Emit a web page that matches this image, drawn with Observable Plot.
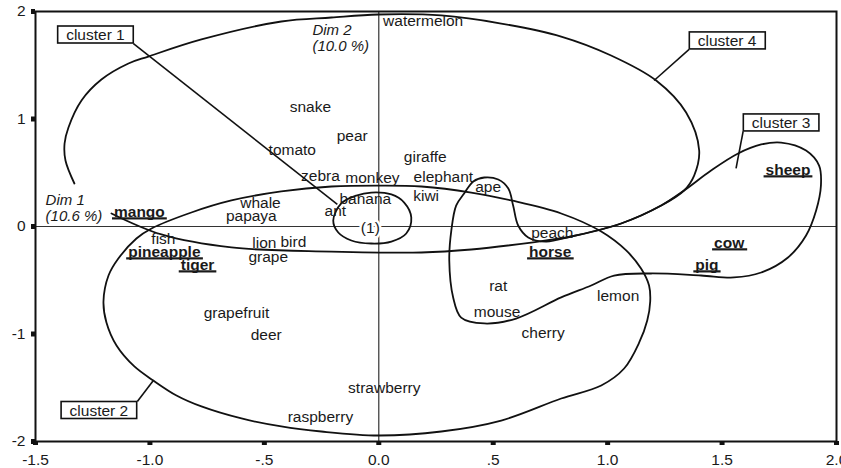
<!DOCTYPE html>
<html>
<head>
<meta charset="utf-8">
<script src="https://cdn.jsdelivr.net/npm/d3@7"></script>
<script src="https://cdn.jsdelivr.net/npm/@observablehq/plot@0.6"></script>
<style>
  html, body { margin: 0; padding: 0; background: #fff; }
</style>
</head>
<body>
<div id="chart"></div>
<script>
// ---- axis ticks ----
const xTicks = [-1.5, -1, -0.5, 0, 0.5, 1, 1.5, 2];
const xTickLabels = ["-1.5", "-1.0", "-.5", "0.0", ".5", "1.0", "1.5", "2.0"];
const yTicks = [-2, -1, 0, 1, 2];
const yTickLabels = ["-2", "-1", "0", "1", "2"];

// ---- plain word labels ----
const words = ["watermelon","snake","pear","tomato","giraffe","zebra","monkey","elephant","kiwi","ape","banana","ant","whale","papaya","fish","lion","bird","grape","peach","rat","mouse","lemon","cherry","grapefruit","deer","strawberry","raspberry"];
const wordX = [0.194,-0.299,-0.116,-0.378,0.203,-0.255,-0.028,0.282,0.207,0.478,-0.059,-0.190,-0.517,-0.557,-0.941,-0.500,-0.373,-0.483,0.758,0.522,0.517,1.046,0.718,-0.622,-0.492,0.024,-0.255];
const wordY = [1.907,1.107,0.837,0.707,0.642,0.474,0.447,0.456,0.288,0.363,0.251,0.140,0.214,0.093,-0.112,-0.158,-0.149,-0.288,-0.065,-0.558,-0.791,-0.651,-0.995,-0.809,-1.014,-1.498,-1.777];

// ---- bold underlined labels ----
const boldWords = ["mango","pineapple","tiger","horse","cow","pig","sheep"];
const boldX = [-1.046,-0.937,-0.792,0.749,1.531,1.434,1.788];
const boldY = [0.130,-0.242,-0.363,-0.242,-0.158,-0.363,0.521];

// ---- centre marker ----
const centreLabel = ["(1)"];
const centreX = [-0.037];
const centreY = [-0.01];

// ---- axis-dimension labels ----
const dimLabels = ["Dim 1\n(10.6 %)", "Dim 2\n(10.0 %)"];
const dimX = [-1.456, -0.290];
const dimY = [0.177, 1.758];

// ---- cluster labels and leaders ----
const clusterNames = ["cluster 1","cluster 2","cluster 3","cluster 4"];
const clusterX = [-1.238,-1.223,1.758,1.522];
const clusterY = [1.781,-1.712,0.963,1.726];
const leaderX1 = [-1.072,-1.055,1.592,1.356];
const leaderY1 = [1.702,-1.628,0.884,1.647];
const leaderX2 = [-0.181,-0.985,1.561,1.203];
const leaderY2 = [0.205,-1.433,0.540,1.358];

// ---- cluster outlines ----
const cluster1Outline = [[-0.199,0.056],[-0.164,0.214],[-0.098,0.288],[-0.033,0.316],[0.055,0.298],[0.111,0.223],[0.142,0.084],[0.120,-0.065],[0.055,-0.140],[-0.033,-0.158],[-0.120,-0.130],[-0.177,-0.056]];
const cluster2Outline = [[-1.203,-0.698],[-1.181,-0.456],[-1.138,-0.298],[-1.059,-0.112],[-0.993,-0.019],[-0.819,0.130],[-0.644,0.242],[-0.426,0.326],[-0.207,0.372],[0.011,0.381],[0.186,0.372],[0.404,0.316],[0.579,0.242],[0.797,0.121],[0.972,-0.047],[1.081,-0.223],[1.146,-0.391],[1.181,-0.549],[1.186,-0.698],[1.173,-0.874],[1.138,-1.079],[1.072,-1.321],[0.972,-1.479],[0.797,-1.600],[0.535,-1.805],[0.273,-1.907],[-0.002,-1.944],[-0.251,-1.907],[-0.426,-1.860],[-0.600,-1.786],[-0.775,-1.674],[-0.884,-1.572],[-0.985,-1.433],[-1.068,-1.302],[-1.146,-1.107],[-1.190,-0.893]];
const cluster3Outline = [[0.373,0.307],[0.413,0.419],[0.461,0.456],[0.522,0.437],[0.566,0.353],[0.587,0.195],[0.609,0.009],[0.653,-0.102],[0.731,-0.140],[0.841,-0.093],[1.059,0.028],[1.234,0.195],[1.334,0.335],[1.452,0.521],[1.570,0.679],[1.671,0.763],[1.758,0.781],[1.867,0.707],[1.924,0.567],[1.932,0.381],[1.911,0.149],[1.867,-0.084],[1.788,-0.288],[1.671,-0.428],[1.552,-0.474],[1.408,-0.456],[1.190,-0.437],[1.028,-0.456],[0.928,-0.549],[0.797,-0.660],[0.600,-0.856],[0.461,-0.902],[0.360,-0.847],[0.325,-0.660],[0.308,-0.316],[0.317,-0.037],[0.338,0.195]];
const cluster4Outline = [[-1.330,0.400],[-1.369,0.614],[-1.373,0.772],[-1.356,0.921],[-1.299,1.172],[-1.212,1.367],[-1.094,1.516],[-1.007,1.581],[-0.775,1.740],[-0.426,1.907],[-0.207,1.944],[-0.002,1.972],[0.273,1.963],[0.535,1.888],[0.797,1.767],[1.015,1.591],[1.212,1.358],[1.343,1.060],[1.400,0.707],[1.378,0.474],[1.334,0.335],[1.234,0.195],[1.059,0.028],[0.841,-0.093],[0.666,-0.149],[0.404,-0.214],[0.186,-0.242],[-0.207,-0.233],[-0.644,-0.195],[-0.950,-0.074],[-1.168,0.121]];

// ---- build tables ----
const wordData = words.map((w, i) => ({label: w, x: wordX[i], y: wordY[i]}));
const boldData = boldWords.map((w, i) => ({label: w, x: boldX[i], y: boldY[i]}));
const centreData = centreLabel.map((w, i) => ({label: w, x: centreX[i], y: centreY[i]}));
const dimData = dimLabels.map((w, i) => ({label: w, x: dimX[i], y: dimY[i]}));
const clusterData = clusterNames.map((w, i) => ({label: w, x: clusterX[i], y: clusterY[i]}));
const leaderData = clusterNames.map((w, i) => ({x1: leaderX1[i], y1: leaderY1[i], x2: leaderX2[i], y2: leaderY2[i]}));

const ink = "#1a1a1a";
const font = "'Liberation Sans', Arial, Helvetica, sans-serif";
const curveStyle = {stroke: "#111", strokeWidth: 1.8, fill: "none"};

const chart = Plot.plot({
  width: 841,
  height: 468,
  marginLeft: 35,
  marginRight: 5,
  marginTop: 11,
  marginBottom: 27,
  style: {fontFamily: font, fontSize: "15.5px", color: ink, background: "#fff"},
  x: {domain: [-1.5, 2], label: null},
  y: {domain: [-2, 2], label: null},
  marks: [
    Plot.ruleX([0], {stroke: "#333", strokeWidth: 1.2}),
    Plot.ruleY([0], {stroke: "#333", strokeWidth: 1.2}),
    Plot.line(cluster4Outline, {...curveStyle, curve: "catmull-rom"}),
    Plot.line(cluster2Outline, {...curveStyle, curve: "catmull-rom-closed"}),
    Plot.line(cluster3Outline, {...curveStyle, curve: "catmull-rom-closed"}),
    Plot.line(cluster1Outline, {...curveStyle, curve: "catmull-rom-closed"}),
    Plot.link(leaderData, {x1: "x1", y1: "y1", x2: "x2", y2: "y2", stroke: "#111", strokeWidth: 1.6}),
    Plot.text(wordData, {x: "x", y: "y", text: "label", fontSize: 15.5, fill: ink}),
    Plot.text(boldData, {x: "x", y: "y", text: "label", fontSize: 15.5, fontWeight: "bold", fill: ink}),
    Plot.text(centreData, {x: "x", y: "y", text: "label", fontSize: 15.5, fill: ink, stroke: "white", strokeWidth: 5}),
    Plot.text(dimData, {x: "x", y: "y", text: "label", fontSize: 15, fontStyle: "italic", textAnchor: "start", lineHeight: 1.07, fill: ink}),
    Plot.text(clusterData, {x: "x", y: "y", text: "label", fontSize: 15.5, fill: ink}),
    Plot.frame({stroke: "#111", strokeWidth: 2}),
    Plot.axisX({ticks: xTicks, tickFormat: d => xTickLabels[xTicks.indexOf(d)], tickSize: 4, tickPadding: 8, strokeWidth: 5, stroke: "#111", fontSize: 15.5, fill: ink}),
    Plot.axisY({ticks: yTicks, tickFormat: d => yTickLabels[yTicks.indexOf(d)], tickSize: 4, tickPadding: 6, strokeWidth: 5, stroke: "#111", fontSize: 15.5, fill: ink})
  ]
});

document.getElementById("chart").append(chart);

const svgNode = chart.tagName.toLowerCase() === "svg" ? chart : chart.querySelector("svg");
const SVGNS = "http://www.w3.org/2000/svg";

svgNode.querySelectorAll("text").forEach(t => {
  const label = t.textContent;
  if (boldWords.includes(label)) {
    // underline below the bold word, sized from its own box
    const b = t.getBBox();
    const r = document.createElementNS(SVGNS, "rect");
    r.setAttribute("x", b.x - 2);
    r.setAttribute("y", b.y + b.height - 3.2);
    r.setAttribute("width", b.width + 4);
    r.setAttribute("height", 2.2);
    r.setAttribute("fill", ink);
    r.setAttribute("stroke", "none");
    const tr = t.getAttribute("transform");
    if (tr) r.setAttribute("transform", tr);
    t.parentNode.insertBefore(r, t.nextSibling);
  } else if (clusterNames.includes(label)) {
    // framed white box behind the cluster label
    const b = t.getBBox();
    const r = document.createElementNS(SVGNS, "rect");
    r.setAttribute("x", b.x - 8.5);
    r.setAttribute("y", b.y);
    r.setAttribute("width", b.width + 17);
    r.setAttribute("height", b.height);
    r.setAttribute("fill", "white");
    r.setAttribute("stroke", "#111");
    r.setAttribute("stroke-width", 1.6);
    const tr = t.getAttribute("transform");
    if (tr) r.setAttribute("transform", tr);
    t.parentNode.insertBefore(r, t);
  }
});
</script>
</body>
</html>
